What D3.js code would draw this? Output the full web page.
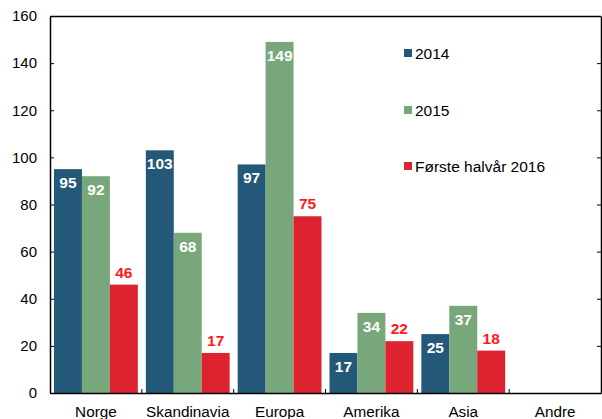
<!DOCTYPE html>
<html>
<head>
<meta charset="utf-8">
<script src="https://cdn.jsdelivr.net/npm/d3@7"></script>
<style>
  body { margin: 0; background: #fff; }
  text { font-family: "Liberation Sans", Arial, sans-serif; }
</style>
</head>
<body>
<svg width="602" height="419"></svg>
<script>
// chart data
const categories = ["Norge", "Skandinavia", "Europa", "Amerika", "Asia", "Andre"];
const seriesNames = ["2014", "2015", "Første halvår 2016"];
const values2014 = [95, 103, 97, 17, 25, null];
const values2015 = [92, 68, 149, 34, 37, null];
const values2016 = [46, 17, 75, 22, 18, null];
const yTicks = [0, 20, 40, 60, 80, 100, 120, 140, 160];

const colors = ["#235878", "#77a77b", "#de2330"];
const labelColors = ["#ffffff", "#ffffff", "#ff1a1a"];

const svg = d3.select("svg");
const margin = { top: 16, right: 1, bottom: 26, left: 50 };
const width = 602 - margin.left - margin.right;
const height = 419 - margin.top - margin.bottom;

const graph = svg.append("g")
  .attr("transform", `translate(${margin.left}, ${margin.top})`);

const x = d3.scaleBand().domain(categories).range([0, width]);
const sub = d3.scaleBand().domain(seriesNames).range([4, x.bandwidth() - 4]);
const y = d3.scaleLinear().domain([0, 160]).range([height, 0]);

const allSeries = [values2014, values2015, values2016];
const data = [];
allSeries.forEach((vals, s) => {
  vals.forEach((v, i) => {
    if (v != null) data.push({ cat: categories[i], series: seriesNames[s], s: s, value: v });
  });
});

// bars
graph.selectAll("rect.bar")
  .data(data)
  .enter()
  .append("rect")
  .attr("class", "bar")
  .attr("x", d => x(d.cat) + sub(d.series))
  .attr("y", d => y(d.value))
  .attr("width", sub.bandwidth())
  .attr("height", d => height - y(d.value))
  .attr("fill", d => colors[d.s]);

// value labels
graph.selectAll("text.val")
  .data(data)
  .enter()
  .append("text")
  .attr("class", "val")
  .attr("x", d => x(d.cat) + sub(d.series) + sub.bandwidth() / 2)
  .attr("y", d => d.s === 2 ? y(d.value) - 7 : y(d.value) + 19)
  .attr("text-anchor", "middle")
  .attr("font-size", 15.5)
  .attr("font-weight", "bold")
  .attr("fill", d => labelColors[d.s])
  .text(d => d.value);

// left axis
const yAxisGroup = graph.append("g")
  .call(d3.axisLeft(y).tickValues(yTicks).tickSizeInner(-4).tickSizeOuter(0).tickPadding(13));
yAxisGroup.selectAll("text").attr("font-size", 15).attr("fill", "#000")
  .style("font-family", "'Liberation Sans', Arial, sans-serif");

// right axis (ticks only)
const rightAxisGroup = graph.append("g")
  .attr("transform", `translate(${width}, 0)`)
  .call(d3.axisRight(y).tickValues(yTicks).tickSizeInner(-4).tickSizeOuter(0).tickFormat(""));

// top border
graph.append("line")
  .attr("x1", 0).attr("x2", width)
  .attr("y1", 0.5).attr("y2", 0.5)
  .attr("stroke", "#000").attr("stroke-width", 1.5);

// bottom axis
const xAxisGroup = graph.append("g")
  .attr("transform", `translate(0, ${height})`)
  .call(d3.axisBottom(x).tickSize(0).tickPadding(13));
xAxisGroup.selectAll("text").attr("font-size", 15.3).attr("fill", "#000")
  .style("font-family", "'Liberation Sans', Arial, sans-serif");
xAxisGroup.select(".domain").attr("stroke-width", 1.5);

// category separator ticks
graph.selectAll("line.sep")
  .data(categories.slice(1))
  .enter()
  .append("line")
  .attr("class", "sep")
  .attr("x1", d => x(d)).attr("x2", d => x(d))
  .attr("y1", height).attr("y2", height - 4)
  .attr("stroke", "#000");

yAxisGroup.select(".domain").attr("stroke-width", 1.5);
rightAxisGroup.select(".domain").attr("stroke-width", 1.5);

// legend
const legend = svg.append("g").attr("transform", "translate(404, 0)");
const legendY = [53, 110, 166];
seriesNames.forEach((name, i) => {
  legend.append("rect")
    .attr("x", 0).attr("y", legendY[i] - 4)
    .attr("width", 8).attr("height", 8)
    .attr("fill", colors[i]);
  legend.append("text")
    .attr("x", 11).attr("y", legendY[i] + 5.5)
    .attr("font-size", 15.5)
    .attr("fill", "#000")
    .text(name);
});
</script>
</body>
</html>
